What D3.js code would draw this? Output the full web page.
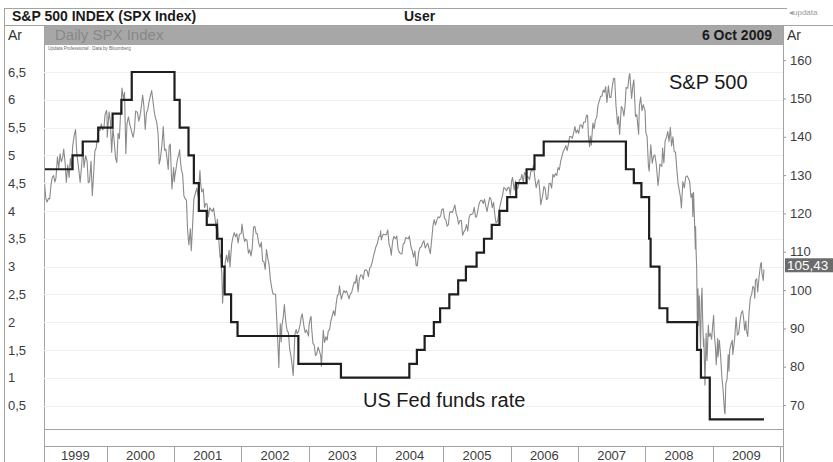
<!DOCTYPE html>
<html>
<head>
<meta charset="utf-8">
<script src="https://cdn.jsdelivr.net/npm/d3@7"></script>
<style>
html,body{margin:0;padding:0;background:#fff;}
svg{display:block;font-family:"Liberation Sans",Arial,Helvetica,sans-serif;}
</style>
</head>
<body>
<svg id="chart" width="833" height="462"></svg>
<script>
// ---------------- DATA ----------------
const years = ["1999","2000","2001","2002","2003","2004","2005","2006","2007","2008","2009"];
const leftTicks = [0.5,1,1.5,2,2.5,3,3.5,4,4.5,5,5.5,6,6.5];
const rightTicks = [70,80,90,100,110,120,130,140,150,160];
const lastValueLabel = "105,43";
const lastValue = 105.43;

// US Fed funds target rate (step changes)
const fedDates = ["1999-01-01","1999-06-30","1999-08-24","1999-11-16","2000-02-02","2000-03-21","2000-05-16",
  "2001-01-03","2001-01-31","2001-03-20","2001-04-18","2001-05-15","2001-06-27","2001-08-21","2001-09-17",
  "2001-10-02","2001-11-06","2001-12-11","2002-11-06","2003-06-25","2004-06-30","2004-08-10","2004-09-21",
  "2004-11-10","2004-12-14","2005-02-02","2005-03-22","2005-05-03","2005-06-30","2005-08-09","2005-09-20",
  "2005-11-01","2005-12-13","2006-01-31","2006-03-28","2006-05-10","2006-06-29","2007-09-18","2007-10-31",
  "2007-12-11","2008-01-22","2008-01-30","2008-03-18","2008-04-30","2008-10-08","2008-10-29","2008-12-16","2009-10-06"];
const fedRates = [4.75,5.0,5.25,5.5,5.75,6.0,6.5,
  6.0,5.5,5.0,4.5,4.0,3.75,3.5,3.0,
  2.5,2.0,1.75,1.25,1.0,1.25,1.5,1.75,
  2.0,2.25,2.5,2.75,3.0,3.25,3.5,3.75,
  4.0,4.25,4.5,4.75,5.0,5.25,4.75,4.5,
  4.25,3.5,3.0,2.25,2.0,1.5,1.0,0.25,0.25];

// S&P 500 index (level / 10, as on the right scale)
const spx = [
["1999-01-04",122.8],["1999-01-08",127.5],["1999-01-14",121.2],["1999-01-22",122.5],["1999-01-29",127.9],
["1999-02-05",123.9],["1999-02-12",123.0],["1999-02-19",123.9],["1999-02-26",123.8],
["1999-03-05",127.5],["1999-03-12",129.4],["1999-03-19",129.9],["1999-03-26",128.2],
["1999-04-01",129.3],["1999-04-09",134.8],["1999-04-16",131.9],["1999-04-23",135.6],["1999-04-30",133.5],
["1999-05-07",134.5],["1999-05-13",136.8],["1999-05-21",133.0],["1999-05-27",128.1],
["1999-06-04",132.7],["1999-06-11",129.4],["1999-06-18",134.3],["1999-06-25",131.6],["1999-06-30",137.3],
["1999-07-09",140.4],["1999-07-16",141.9],["1999-07-23",135.6],["1999-07-30",132.9],
["1999-08-06",130.0],["1999-08-10",128.1],["1999-08-20",133.6],["1999-08-25",138.1],["1999-08-31",132.0],
["1999-09-09",135.1],["1999-09-17",133.6],["1999-09-23",128.0],["1999-09-30",128.3],
["1999-10-08",133.6],["1999-10-15",124.7],["1999-10-22",130.1],["1999-10-29",136.3],
["1999-11-05",137.1],["1999-11-12",139.6],["1999-11-19",142.2],["1999-11-26",141.6],
["1999-12-03",143.4],["1999-12-10",141.8],["1999-12-17",142.2],["1999-12-23",145.8],["1999-12-31",146.9],
["2000-01-03",145.5],["2000-01-04",139.9],["2000-01-14",146.5],["2000-01-21",144.1],["2000-01-28",136.0],
["2000-02-04",142.4],["2000-02-11",138.7],["2000-02-18",134.6],["2000-02-25",133.3],
["2000-03-03",140.9],["2000-03-10",139.5],["2000-03-16",145.8],["2000-03-24",152.7],["2000-03-31",149.9],
["2000-04-07",151.6],["2000-04-14",135.6],["2000-04-20",143.4],["2000-04-28",145.2],
["2000-05-05",143.3],["2000-05-12",142.1],["2000-05-19",140.6],["2000-05-24",139.9],["2000-05-31",142.1],
["2000-06-06",146.7],["2000-06-16",146.4],["2000-06-23",144.1],["2000-06-30",145.5],
["2000-07-07",147.8],["2000-07-14",150.9],["2000-07-21",148.0],["2000-07-28",141.9],
["2000-08-04",146.3],["2000-08-11",147.1],["2000-08-18",149.2],["2000-08-25",150.7],["2000-08-31",151.8],
["2000-09-01",152.1],["2000-09-08",149.4],["2000-09-15",146.6],["2000-09-22",144.9],["2000-09-29",143.7],
["2000-10-06",140.8],["2000-10-12",132.9],["2000-10-18",134.2],["2000-10-27",137.9],
["2000-11-03",142.7],["2000-11-10",136.5],["2000-11-17",136.8],["2000-11-24",134.1],["2000-11-30",131.5],
["2000-12-05",137.6],["2000-12-11",138.1],["2000-12-20",126.4],["2000-12-29",132.0],
["2001-01-02",128.3],["2001-01-05",129.8],["2001-01-12",131.9],["2001-01-19",134.2],["2001-01-26",135.4],["2001-01-31",136.6],
["2001-02-02",134.9],["2001-02-09",131.5],["2001-02-16",130.2],["2001-02-23",124.6],["2001-02-28",124.0],
["2001-03-09",123.4],["2001-03-14",116.7],["2001-03-16",115.1],["2001-03-22",111.8],["2001-03-30",116.0],
["2001-04-04",110.3],["2001-04-11",116.8],["2001-04-18",123.8],["2001-04-27",125.4],
["2001-05-04",126.6],["2001-05-11",124.5],["2001-05-21",131.2],["2001-05-25",127.7],["2001-05-31",125.6],
["2001-06-08",126.4],["2001-06-15",121.5],["2001-06-22",122.6],["2001-06-29",122.4],
["2001-07-06",119.1],["2001-07-13",121.5],["2001-07-20",121.0],["2001-07-27",120.5],
["2001-08-03",121.4],["2001-08-10",119.0],["2001-08-17",116.1],["2001-08-24",118.5],["2001-08-31",113.4],
["2001-09-07",108.6],["2001-09-10",109.3],["2001-09-17",103.9],["2001-09-21",96.6],["2001-09-28",104.1],
["2001-10-05",107.1],["2001-10-12",109.1],["2001-10-19",107.3],["2001-10-26",110.4],["2001-10-31",106.0],
["2001-11-09",112.0],["2001-11-16",113.8],["2001-11-23",115.0],["2001-11-30",113.9],
["2001-12-07",114.7],["2001-12-14",112.3],["2001-12-21",114.5],["2001-12-31",114.8],
["2002-01-04",117.2],["2002-01-11",114.6],["2002-01-18",112.7],["2002-01-25",113.3],["2002-01-31",113.0],
["2002-02-08",109.6],["2002-02-15",110.5],["2002-02-22",108.9],["2002-02-28",110.7],
["2002-03-08",116.4],["2002-03-15",116.6],["2002-03-22",114.8],["2002-03-28",114.7],
["2002-04-05",112.2],["2002-04-12",111.2],["2002-04-19",112.5],["2002-04-26",107.6],
["2002-05-03",107.4],["2002-05-10",105.4],["2002-05-17",110.6],["2002-05-24",108.3],["2002-05-31",106.7],
["2002-06-07",102.8],["2002-06-14",100.7],["2002-06-21",99.0],["2002-06-28",98.9],
["2002-07-05",98.9],["2002-07-12",92.1],["2002-07-19",84.7],["2002-07-23",79.8],["2002-07-26",85.3],["2002-07-31",91.2],
["2002-08-05",86.5],["2002-08-09",90.8],["2002-08-16",93.0],["2002-08-22",96.2],["2002-08-30",91.6],
["2002-09-06",89.4],["2002-09-13",88.9],["2002-09-20",84.5],["2002-09-27",82.8],
["2002-10-04",80.0],["2002-10-09",77.7],["2002-10-18",88.4],["2002-10-25",89.7],["2002-10-31",88.6],
["2002-11-08",89.4],["2002-11-15",90.9],["2002-11-22",93.1],["2002-11-27",93.8],
["2002-12-06",90.6],["2002-12-13",88.9],["2002-12-20",89.6],["2002-12-31",88.0],
["2003-01-03",90.9],["2003-01-10",92.7],["2003-01-14",93.1],["2003-01-17",90.1],["2003-01-24",86.1],["2003-01-31",85.6],
["2003-02-07",82.9],["2003-02-14",83.4],["2003-02-21",85.1],["2003-02-28",84.1],
["2003-03-07",82.9],["2003-03-11",80.1],["2003-03-21",89.5],["2003-03-28",86.3],
["2003-04-04",87.8],["2003-04-11",86.9],["2003-04-17",89.3],["2003-04-25",89.8],["2003-04-30",91.7],
["2003-05-09",93.3],["2003-05-16",94.6],["2003-05-23",93.3],["2003-05-30",96.4],
["2003-06-06",98.7],["2003-06-13",98.8],["2003-06-17",101.1],["2003-06-27",97.6],
["2003-07-03",98.6],["2003-07-11",99.9],["2003-07-18",99.3],["2003-07-25",99.8],["2003-07-31",99.0],
["2003-08-08",97.7],["2003-08-15",99.0],["2003-08-22",99.3],["2003-08-29",100.8],
["2003-09-05",102.1],["2003-09-12",101.8],["2003-09-18",103.9],["2003-09-26",99.6],
["2003-10-03",102.9],["2003-10-10",103.9],["2003-10-17",103.9],["2003-10-24",102.8],["2003-10-31",105.1],
["2003-11-07",105.3],["2003-11-14",105.0],["2003-11-21",103.5],["2003-11-28",105.8],
["2003-12-05",106.1],["2003-12-12",107.4],["2003-12-19",108.9],["2003-12-31",111.2],
["2004-01-09",112.2],["2004-01-16",113.9],["2004-01-23",114.1],["2004-01-26",115.5],["2004-01-30",113.1],
["2004-02-06",114.3],["2004-02-13",114.6],["2004-02-20",114.4],["2004-02-27",114.5],
["2004-03-05",115.7],["2004-03-12",112.0],["2004-03-19",110.9],["2004-03-24",109.1],["2004-03-31",112.6],
["2004-04-07",114.0],["2004-04-16",113.4],["2004-04-23",114.1],["2004-04-30",110.7],
["2004-05-07",109.8],["2004-05-14",109.5],["2004-05-21",109.4],["2004-05-28",112.1],
["2004-06-04",112.3],["2004-06-10",113.7],["2004-06-18",113.5],["2004-06-25",113.4],["2004-06-30",114.1],
["2004-07-09",111.3],["2004-07-16",110.2],["2004-07-23",108.6],["2004-07-30",110.2],
["2004-08-06",106.4],["2004-08-12",106.3],["2004-08-20",109.9],["2004-08-27",111.1],
["2004-09-03",111.3],["2004-09-10",112.3],["2004-09-17",112.9],["2004-09-24",111.0],["2004-09-30",111.5],
["2004-10-08",112.2],["2004-10-15",110.8],["2004-10-22",109.5],["2004-10-29",113.0],
["2004-11-05",116.6],["2004-11-12",118.4],["2004-11-19",117.0],["2004-11-26",118.2],
["2004-12-03",119.1],["2004-12-10",118.9],["2004-12-17",119.4],["2004-12-23",121.0],["2004-12-31",121.2],
["2005-01-07",118.7],["2005-01-14",118.4],["2005-01-21",116.7],["2005-01-28",117.1],
["2005-02-04",120.3],["2005-02-11",120.5],["2005-02-18",120.2],["2005-02-25",121.1],
["2005-03-04",122.2],["2005-03-11",120.0],["2005-03-18",119.0],["2005-03-24",117.2],["2005-03-31",118.1],
["2005-04-08",118.2],["2005-04-15",114.3],["2005-04-22",115.2],["2005-04-29",115.7],
["2005-05-06",117.1],["2005-05-13",115.4],["2005-05-20",118.9],["2005-05-27",119.8],
["2005-06-03",119.7],["2005-06-10",120.0],["2005-06-17",121.6],["2005-06-24",119.1],["2005-06-30",119.1],
["2005-07-08",121.1],["2005-07-15",122.8],["2005-07-22",123.4],["2005-07-29",123.4],
["2005-08-05",122.6],["2005-08-12",123.7],["2005-08-19",121.9],["2005-08-26",120.5],["2005-08-31",122.0],
["2005-09-09",124.2],["2005-09-16",123.7],["2005-09-23",121.5],["2005-09-30",122.9],
["2005-10-07",119.6],["2005-10-13",117.6],["2005-10-21",117.9],["2005-10-28",119.8],
["2005-11-04",122.0],["2005-11-11",123.5],["2005-11-18",124.8],["2005-11-25",126.8],
["2005-12-02",126.5],["2005-12-09",125.9],["2005-12-16",126.7],["2005-12-23",126.8],["2005-12-30",124.8],
["2006-01-06",128.5],["2006-01-11",129.4],["2006-01-20",126.1],["2006-01-27",128.5],
["2006-02-03",126.5],["2006-02-10",126.7],["2006-02-17",128.8],["2006-02-24",128.9],
["2006-03-03",130.2],["2006-03-10",128.2],["2006-03-17",130.7],["2006-03-24",130.2],["2006-03-31",129.5],
["2006-04-07",129.5],["2006-04-13",128.8],["2006-04-21",131.1],["2006-04-28",131.1],
["2006-05-05",132.6],["2006-05-12",129.2],["2006-05-19",126.7],["2006-05-26",128.0],
["2006-06-02",128.8],["2006-06-09",125.3],["2006-06-13",122.3],["2006-06-23",124.5],["2006-06-30",127.0],
["2006-07-07",126.5],["2006-07-14",123.6],["2006-07-21",124.0],["2006-07-28",127.8],
["2006-08-04",127.9],["2006-08-11",126.6],["2006-08-18",130.2],["2006-08-25",129.5],["2006-08-31",130.4],
["2006-09-08",129.9],["2006-09-15",132.0],["2006-09-22",131.4],["2006-09-29",133.6],
["2006-10-06",134.9],["2006-10-13",136.2],["2006-10-20",136.8],["2006-10-27",137.7],
["2006-11-03",136.4],["2006-11-10",138.0],["2006-11-17",140.1],["2006-11-24",140.1],
["2006-12-01",139.6],["2006-12-08",140.9],["2006-12-15",142.7],["2006-12-22",141.0],["2006-12-29",141.8],
["2007-01-05",140.9],["2007-01-12",143.1],["2007-01-19",143.1],["2007-01-26",142.2],["2007-01-31",143.8],
["2007-02-09",143.8],["2007-02-16",145.6],["2007-02-22",145.6],["2007-02-27",139.9],
["2007-03-05",137.4],["2007-03-09",140.2],["2007-03-14",137.8],["2007-03-23",143.6],["2007-03-30",142.1],
["2007-04-05",144.3],["2007-04-13",145.2],["2007-04-20",148.4],["2007-04-27",149.4],
["2007-05-04",150.6],["2007-05-11",150.6],["2007-05-18",152.2],["2007-05-25",151.6],["2007-05-31",153.1],
["2007-06-07",149.0],["2007-06-15",153.3],["2007-06-22",150.3],["2007-06-29",150.3],
["2007-07-06",153.1],["2007-07-13",155.2],["2007-07-19",155.3],["2007-07-26",148.3],["2007-07-31",145.5],
["2007-08-03",143.3],["2007-08-09",145.3],["2007-08-15",140.6],["2007-08-24",147.9],["2007-08-31",147.4],
["2007-09-07",145.4],["2007-09-14",148.4],["2007-09-19",152.9],["2007-09-28",152.7],
["2007-10-05",155.7],["2007-10-09",156.5],["2007-10-19",150.0],["2007-10-26",153.5],["2007-10-31",154.9],
["2007-11-09",145.3],["2007-11-16",145.8],["2007-11-26",140.7],["2007-11-30",148.1],
["2007-12-07",150.4],["2007-12-14",146.8],["2007-12-21",148.4],["2007-12-31",146.8],
["2008-01-04",141.1],["2008-01-11",140.1],["2008-01-18",132.5],["2008-01-22",131.0],["2008-01-25",133.1],["2008-01-31",137.9],
["2008-02-08",133.1],["2008-02-15",134.9],["2008-02-22",135.3],["2008-02-29",133.1],
["2008-03-07",129.3],["2008-03-10",127.3],["2008-03-14",128.8],["2008-03-20",132.9],["2008-03-31",132.3],
["2008-04-04",137.1],["2008-04-11",133.2],["2008-04-18",139.0],["2008-04-25",139.8],
["2008-05-02",141.4],["2008-05-09",138.8],["2008-05-16",142.5],["2008-05-23",137.6],["2008-05-30",140.0],
["2008-06-06",136.1],["2008-06-13",136.0],["2008-06-20",131.7],["2008-06-27",127.8],
["2008-07-03",126.2],["2008-07-11",123.9],["2008-07-15",121.4],["2008-07-23",128.3],["2008-07-31",126.7],
["2008-08-08",129.6],["2008-08-15",129.8],["2008-08-22",129.2],["2008-08-29",128.3],
["2008-09-05",124.2],["2008-09-12",125.2],["2008-09-15",119.2],["2008-09-19",125.5],["2008-09-29",110.7],["2008-09-30",116.6],
["2008-10-03",109.9],["2008-10-06",105.7],["2008-10-10",89.9],["2008-10-13",100.3],["2008-10-15",90.7],["2008-10-20",98.5],["2008-10-27",84.8],["2008-10-31",96.9],
["2008-11-04",100.5],["2008-11-07",93.0],["2008-11-12",85.3],["2008-11-14",87.3],["2008-11-20",75.2],["2008-11-26",88.7],["2008-12-01",81.6],
["2008-12-08",90.9],["2008-12-12",87.9],["2008-12-19",88.7],["2008-12-26",87.2],["2008-12-31",90.3],
["2009-01-06",93.4],["2009-01-09",89.0],["2009-01-16",85.0],["2009-01-20",80.5],["2009-01-28",87.4],["2009-01-30",82.6],
["2009-02-06",86.9],["2009-02-13",82.7],["2009-02-20",77.0],["2009-02-27",73.5],
["2009-03-06",68.3],["2009-03-09",67.7],["2009-03-13",75.6],["2009-03-20",76.8],["2009-03-26",83.2],["2009-03-30",78.8],
["2009-04-03",84.3],["2009-04-09",85.6],["2009-04-17",86.9],["2009-04-20",83.2],["2009-04-30",87.3],
["2009-05-08",92.9],["2009-05-15",88.2],["2009-05-22",88.7],["2009-05-29",91.9],
["2009-06-05",94.0],["2009-06-12",94.6],["2009-06-19",92.1],["2009-06-23",89.5],["2009-06-30",91.9],
["2009-07-02",89.7],["2009-07-10",87.9],["2009-07-17",94.0],["2009-07-24",97.9],["2009-07-31",98.8],
["2009-08-07",101.0],["2009-08-14",100.4],["2009-08-17",97.9],["2009-08-21",102.6],["2009-08-28",102.9],
["2009-09-02",99.5],["2009-09-11",104.2],["2009-09-18",106.8],["2009-09-22",107.2],["2009-09-25",104.4],["2009-10-02",102.5],["2009-10-06",105.4]
];

// ---------------- DRAW ----------------
const parse = d3.timeParse("%Y-%m-%d");
const svg = d3.select("#chart");
const border = "#a3a3a3";
const plot = {l:44, r:783, t:45, b:429};

const x = d3.scaleTime().domain([new Date(1999,0,1), new Date(2010,0,1)]).range([39.4, 780]);
const yL = d3.scaleLinear().domain([0.5, 6.5]).range([405.5, 72]);
const yR = d3.scaleLinear().domain([70, 160]).range([405, 60.2]);

// header rows
svg.append("rect").attr("x",44).attr("y",26).attr("width",plot.r-44).attr("height",19).attr("fill","#a7a7a7");
const hl = (x1,y1,x2,y2)=>svg.append("line").attr("x1",x1).attr("y1",y1).attr("x2",x2).attr("y2",y2)
  .attr("stroke",border).attr("stroke-width",1).attr("shape-rendering","crispEdges");
hl(4,8.5,787,8.5);
hl(4,25.5,833,25.5);
hl(4,8,4,462);
hl(44,25,44,462);
hl(plot.r,25,plot.r,462);
hl(44,plot.b+0.5,plot.r,plot.b+0.5);
hl(44,446.5,plot.r,446.5);

svg.append("text").attr("x",12).attr("y",21).attr("font-size",14).attr("font-weight","bold").attr("fill","#1a1a1a")
  .text("S&P 500 INDEX (SPX Index)");
svg.append("text").attr("x",404).attr("y",21).attr("font-size",14).attr("font-weight","bold").attr("fill","#1a1a1a").text("User");
svg.append("text").attr("x",789).attr("y",15).attr("font-size",8).attr("fill","#9a9a9a").text("\u25C2updata");
svg.append("text").attr("x",8).attr("y",40).attr("font-size",14).attr("fill","#333").text("Ar");
svg.append("text").attr("x",787).attr("y",40).attr("font-size",14).attr("fill","#333").text("Ar");
svg.append("text").attr("x",55).attr("y",40).attr("font-size",15).attr("fill","#878787").text("Daily SPX Index");
svg.append("text").attr("x",772).attr("y",40).attr("text-anchor","end").attr("font-size",14).attr("font-weight","bold").attr("fill","#1a1a1a").text("6 Oct 2009");
svg.append("text").attr("x",48).attr("y",50).attr("font-size",4.5).attr("fill","#666").text("Updata Professional : Data by Bloomberg");

// gridlines
svg.append("g").selectAll("line").data(leftTicks).join("line")
  .attr("x1",plot.l).attr("x2",plot.r).attr("y1",d=>Math.round(yL(d))+0.5).attr("y2",d=>Math.round(yL(d))+0.5)
  .attr("stroke","#f1f1f1").attr("stroke-width",1);

// left axis
const fmt = d => String(d).replace(".", ",");
const gL = svg.append("g").attr("transform",`translate(${plot.l},0)`)
  .call(d3.axisLeft(yL).tickValues(leftTicks).tickFormat(fmt).tickSize(0));
gL.select(".domain").remove();
gL.selectAll("text").attr("x",-36).attr("text-anchor","start").attr("font-size",13).attr("fill","#3c3c3c")
  .attr("font-family","Liberation Sans, Arial, sans-serif");

// right axis
const gR = svg.append("g").attr("transform",`translate(${plot.r},0)`)
  .call(d3.axisRight(yR).tickValues(rightTicks).tickFormat(d3.format("d")).tickSize(3).tickPadding(4));
gR.select(".domain").remove();
gR.selectAll("line").attr("stroke","#999");
gR.selectAll("text").attr("font-size",13).attr("fill","#3c3c3c").attr("font-family","Liberation Sans, Arial, sans-serif");

// year row
const yearStarts = years.map(y => new Date(+y,0,1));
const gY = svg.append("g");
yearStarts.forEach((d,i)=>{
  const x0 = Math.max(plot.l, x(d));
  const x1 = x(d3.timeYear.offset(d,1));
  gY.append("line").attr("x1",Math.round(x1)+0.5).attr("x2",Math.round(x1)+0.5).attr("y1",446).attr("y2",462)
    .attr("stroke",border);
  gY.append("text").attr("x",(x0+x1)/2).attr("y",460).attr("text-anchor","middle").attr("font-size",13)
    .attr("fill","#3c3c3c").text(years[i]);
});

// clip
svg.append("clipPath").attr("id","clip").append("rect")
  .attr("x",plot.l+1).attr("y",plot.t+1).attr("width",plot.r-plot.l-1).attr("height",plot.b-plot.t-1);

// S&P line
const spxData = spx.map(d=>({date:parse(d[0]), v:d[1]}));
svg.append("path").datum(spxData).attr("clip-path","url(#clip)")
  .attr("fill","none").attr("stroke","#8a8a8a").attr("stroke-width",1.1).attr("stroke-linejoin","round")
  .attr("d", d3.line().x(d=>x(d.date)).y(d=>yR(d.v)));

// Fed funds step line
const fedData = fedDates.map((d,i)=>({date:parse(d), v:fedRates[i]}));
svg.append("path").datum(fedData).attr("clip-path","url(#clip)")
  .attr("fill","none").attr("stroke","#1e1e1e").attr("stroke-width",2.2)
  .attr("d", d3.line().curve(d3.curveStepAfter).x(d=>x(d.date)).y(d=>yL(d.v)));

// annotations
svg.append("text").attr("x",669).attr("y",89).attr("font-size",20).attr("fill","#1a1a1a").text("S&P 500");
svg.append("text").attr("x",363).attr("y",407).attr("font-size",20).attr("fill","#1a1a1a").text("US Fed funds rate");

// last value label
const ly = yR(lastValue);
svg.append("rect").attr("x",plot.r+2).attr("y",ly-11).attr("width",833-plot.r-2).attr("height",14).attr("fill","#6b6b6b");
svg.append("text").attr("x",plot.r+4).attr("y",ly+0.5).attr("font-size",13.5).attr("fill","#fff").text(lastValueLabel);
</script>
</body>
</html>
